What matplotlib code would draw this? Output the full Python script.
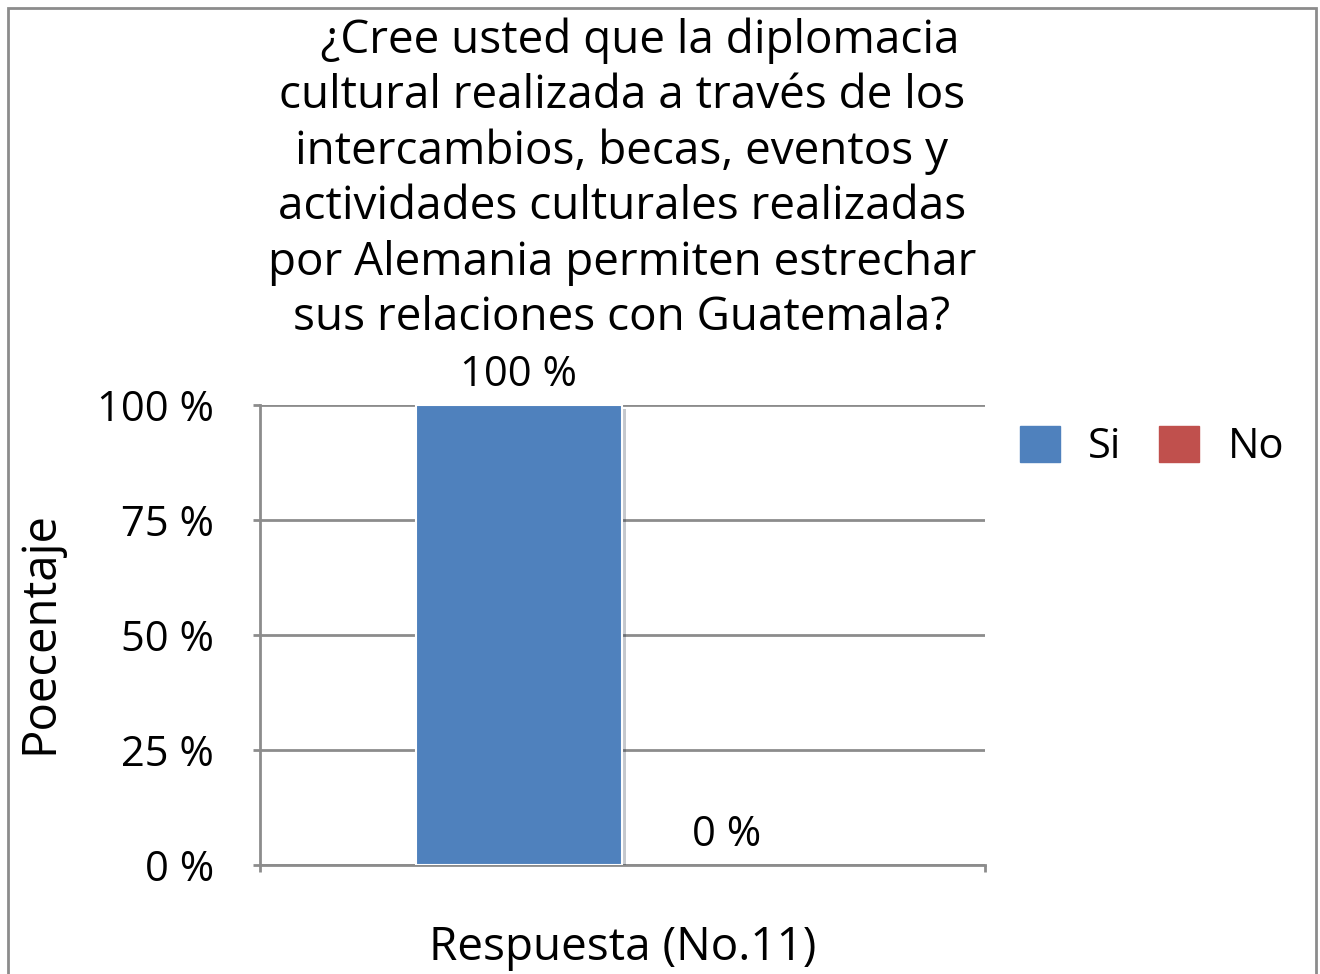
import matplotlib
matplotlib.use('Agg')
import matplotlib.pyplot as plt
import matplotlib.patches as mpatches
import matplotlib.patheffects as pe

# Chart data
categories = ['Si', 'No']
values = [100, 0]
colors = ['#4F81BD', '#C0504D']
yticks = [0, 25, 50, 75, 100]
titleLines = ['   ¿Cree usted que la diplomacia',
              'cultural realizada a través de los',
              'intercambios, becas, eventos y',
              'actividades culturales realizadas',
              'por Alemania permiten estrechar',
              'sus relaciones con Guatemala?']

plt.rcParams['font.family'] = ['Open Sans', 'DejaVu Sans']
FS = 30
GRID = '#8C8C8C'

fig = plt.figure(figsize=(13.2, 9.74), dpi=100)
# outer chart frame
fig.patches.append(mpatches.Rectangle((8 / 1320, -0.01), 1308 / 1320, 1 - 8 / 974 + 0.01,
                                      transform=fig.transFigure, fill=False,
                                      edgecolor='#8C8C8C', linewidth=2))

ax = fig.add_axes([260 / 1320, 1 - 865 / 974, 725 / 1320, 460 / 974])

barWidth = 0.284
offsets = [-0.143, 0.143]
for name, val, col, off in zip(categories, values, colors, offsets):
    lw = 1.5 if val > 0 else 0
    b = ax.bar(off, val, width=barWidth, color=col, edgecolor='white', linewidth=lw,
               label=name, zorder=3)
    if val > 0:
        for p in b:
            p.set_path_effects([pe.SimplePatchShadow(offset=(3, -3), alpha=0.25), pe.Normal()])
    ax.text(off, val + 2, str(val) + ' %', ha='center', va='bottom', fontsize=FS)

ax.set_xlim(-0.5, 0.5)
ax.set_ylim(0, 100)
ax.set_yticks(yticks)
ax.set_yticklabels([str(t) + ' %' for t in yticks], fontsize=FS)
ax.set_xticks([-0.5, 0.5])
ax.set_xticklabels(['', ''])
ax.tick_params(axis='y', length=5, width=2, color=GRID, pad=28)
ax.tick_params(axis='x', length=5, width=2, color=GRID)
ax.yaxis.grid(True, color=GRID, linewidth=2, zorder=0)
ax.set_axisbelow(True)
for s in ['top', 'right']:
    ax.spines[s].set_visible(False)
for s in ['left', 'bottom']:
    ax.spines[s].set_color(GRID)
    ax.spines[s].set_linewidth(2)

ax.set_xlabel('Respuesta (No.11)', fontsize=33, va='center')
ax.xaxis.set_label_coords(0.5, -(948 - 865) / 460)
ax.set_ylabel('Poecentaje', fontsize=34, va='center')
ax.yaxis.set_label_coords((40 - 260) / 725, 1 - (633 - 405) / 460)

fig.text(622 / 1320, 1 - 17 / 974, '\n'.join(titleLines), ha='center', va='top',
         fontsize=33, linespacing=1.27)

handles = [mpatches.Patch(color=c, label=n) for n, c in zip(categories, colors)]
fig.legend(handles=handles, loc='center left', bbox_to_anchor=(1020 / 1320, 1 - 447 / 974),
           ncol=2, frameon=False, fontsize=30, handlelength=0.96, handleheight=0.96,
           handletextpad=0.68, columnspacing=0.9, borderpad=0, borderaxespad=0)

fig.savefig('out.png', dpi=100)
